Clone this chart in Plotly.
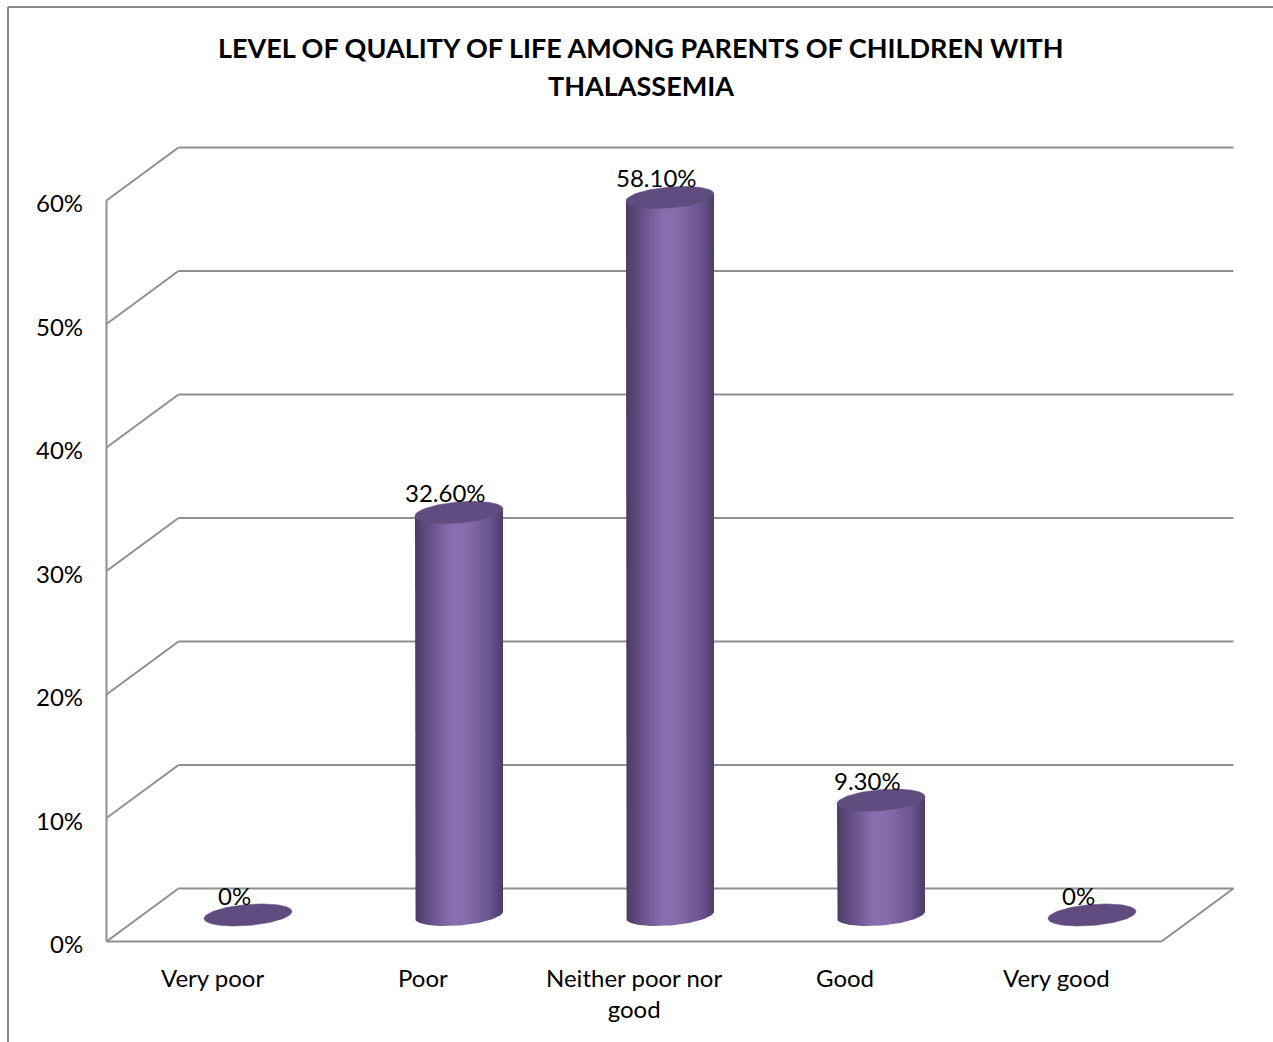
import numpy as np
import plotly.graph_objects as go

# ---- data ----
categories = ["Very poor", "Poor", "Neither poor nor<br>good", "Good", "Very good"]
values = [0.0, 32.6, 58.1, 9.3, 0.0]
y_ticks = [0, 10, 20, 30, 40, 50, 60]
tick_labels = ["0%", "10%", "20%", "30%", "40%", "50%", "60%"]
title_lines = ["LEVEL OF QUALITY OF LIFE AMONG PARENTS OF CHILDREN WITH", "THALASSEMIA"]

# ---- geometry of the pseudo-3D scene ----
W, H = 1273, 1042
PX_X = 211.0          # pixels per category step
PX_Y = 12.35          # pixels per percentage point
X0_PX, Y0_PX = 248.0, 915.0   # pixel position of category 0 / 0% on the mid-depth plane

DX = 36.0 / PX_X      # depth offset (front <-> mid <-> back) along x
DY = 26.5 / PX_Y      # depth offset along y

R_X = 44.0 / PX_X     # cylinder radius (x units)
R_Y = 10.5 / PX_Y     # ellipse half height (y units)
TILT = 3.5 / PX_Y     # ellipse tilt: right end slightly higher

GRID = "#8f8f8f"
FONT = "Lato"
LABEL_SIZE = 24
BODY_SCALE = [
    [0.00, "#4b3a64"],
    [0.12, "#5e4a7e"],
    [0.42, "#8a6eb0"],
    [0.58, "#876cab"],
    [0.85, "#6a5490"],
    [1.00, "#4d3c68"],
]
TOP_COLOR = "#614c80"


def proj(i, v, d):
    """Category/value on depth plane d (-1 front, 0 middle, +1 back)."""
    return i + d * DX, v + d * DY


def ellipse(cx, cy, t):
    return cx + R_X * np.cos(t), cy + R_Y * np.sin(t) + TILT * np.cos(t)


fig = go.Figure()

# ---- walls and floor ----
shapes = []


def seg(p, q, width=2):
    shapes.append(dict(type="line", xref="x", yref="y", x0=p[0], y0=p[1], x1=q[0], y1=q[1],
                       line=dict(color=GRID, width=width), layer="below"))


left, right = -0.5, len(categories) - 0.5
top = y_ticks[-1]
for v in y_ticks:
    seg(proj(left, v, 1), proj(right, v, 1))          # back-wall gridline
    seg(proj(left, v, -1), proj(left, v, 1))          # side-wall diagonal
seg(proj(left, 0, -1), proj(left, top, -1))            # front vertical axis
seg(proj(left, 0, -1), proj(right, 0, -1))             # front floor edge
seg(proj(right, 0, -1), proj(right, 0, 1))             # right floor edge

# outer chart frame (left and top edges)
frame = dict(color="#8a8a8a", width=2)
shapes.append(dict(type="line", xref="paper", yref="paper", x0=8 / W, y0=0, x1=8 / W, y1=1 - 7 / H, line=frame))
shapes.append(dict(type="line", xref="paper", yref="paper", x0=8 / W, y0=1 - 7 / H, x1=1, y1=1 - 7 / H, line=frame))

# ---- cylinders ----
t_low = np.linspace(np.pi, 2 * np.pi, 60)
t_full = np.linspace(0, 2 * np.pi, 120)
for i, v in enumerate(values):
    cx, _ = proj(i, 0, 0)
    if v > 0:
        bx, by = ellipse(cx, 0.0, t_low)
        xs = np.concatenate([[cx - R_X], bx, [cx + R_X, cx + R_X, cx - R_X]])
        ys = np.concatenate([[v - TILT], by, [TILT, v + TILT, v - TILT]])
        fig.add_trace(go.Scatter(
            x=xs, y=ys, mode="lines", fill="toself",
            fillgradient=dict(type="horizontal", colorscale=BODY_SCALE),
            line=dict(width=0, color="rgba(0,0,0,0)"),
            hoverinfo="skip", showlegend=False))
    ex, ey = ellipse(cx, v, t_full)
    fig.add_trace(go.Scatter(
        x=ex, y=ey, mode="lines", fill="toself", fillcolor=TOP_COLOR,
        line=dict(width=0.5, color=TOP_COLOR),
        hoverinfo="skip", showlegend=False))

# ---- texts ----
annotations = []
for v, lab in zip(y_ticks, tick_labels):
    x, y = proj(left, v, -1)
    annotations.append(dict(x=x, y=y, xref="x", yref="y", text=lab, showarrow=False,
                            xanchor="right", yanchor="middle", xshift=-22, yshift=-2,
                            font=dict(family=FONT, size=LABEL_SIZE, color="#000000")))
for i, cat in enumerate(categories):
    x, y = proj(i, 0, -1)
    annotations.append(dict(x=x, y=y, xref="x", yref="y", text=cat, showarrow=False,
                            xanchor="center", yanchor="top", yshift=-19, align="center",
                            font=dict(family=FONT, size=LABEL_SIZE, color="#000000")))
for i, v in enumerate(values):
    x, _ = proj(i, 0, 0)
    lab = "0%" if v == 0 else f"{v:.2f}%"
    annotations.append(dict(x=x, y=v, xref="x", yref="y", text=lab, showarrow=False,
                            xanchor="center", yanchor="middle", xshift=-14, yshift=20,
                            font=dict(family=FONT, size=LABEL_SIZE, color="#000000")))
for k, line in enumerate(title_lines):
    annotations.append(dict(x=641 / W, y=1 - (47 + 39 * k) / H, xref="paper", yref="paper",
                            text=line, showarrow=False, xanchor="center", yanchor="middle",
                            font=dict(family=FONT, size=27, color="#000000", weight="bold")))

x_range = [(0 - X0_PX) / PX_X, (W - X0_PX) / PX_X]
y_range = [(Y0_PX - H) / PX_Y, Y0_PX / PX_Y]

fig.update_layout(
    width=W, height=H,
    margin=dict(l=0, r=0, t=0, b=0),
    paper_bgcolor="white", plot_bgcolor="white",
    xaxis=dict(range=x_range, visible=False, fixedrange=True),
    yaxis=dict(range=y_range, visible=False, fixedrange=True),
    shapes=shapes, annotations=annotations,
    showlegend=False,
)

fig.write_html("out.html")
